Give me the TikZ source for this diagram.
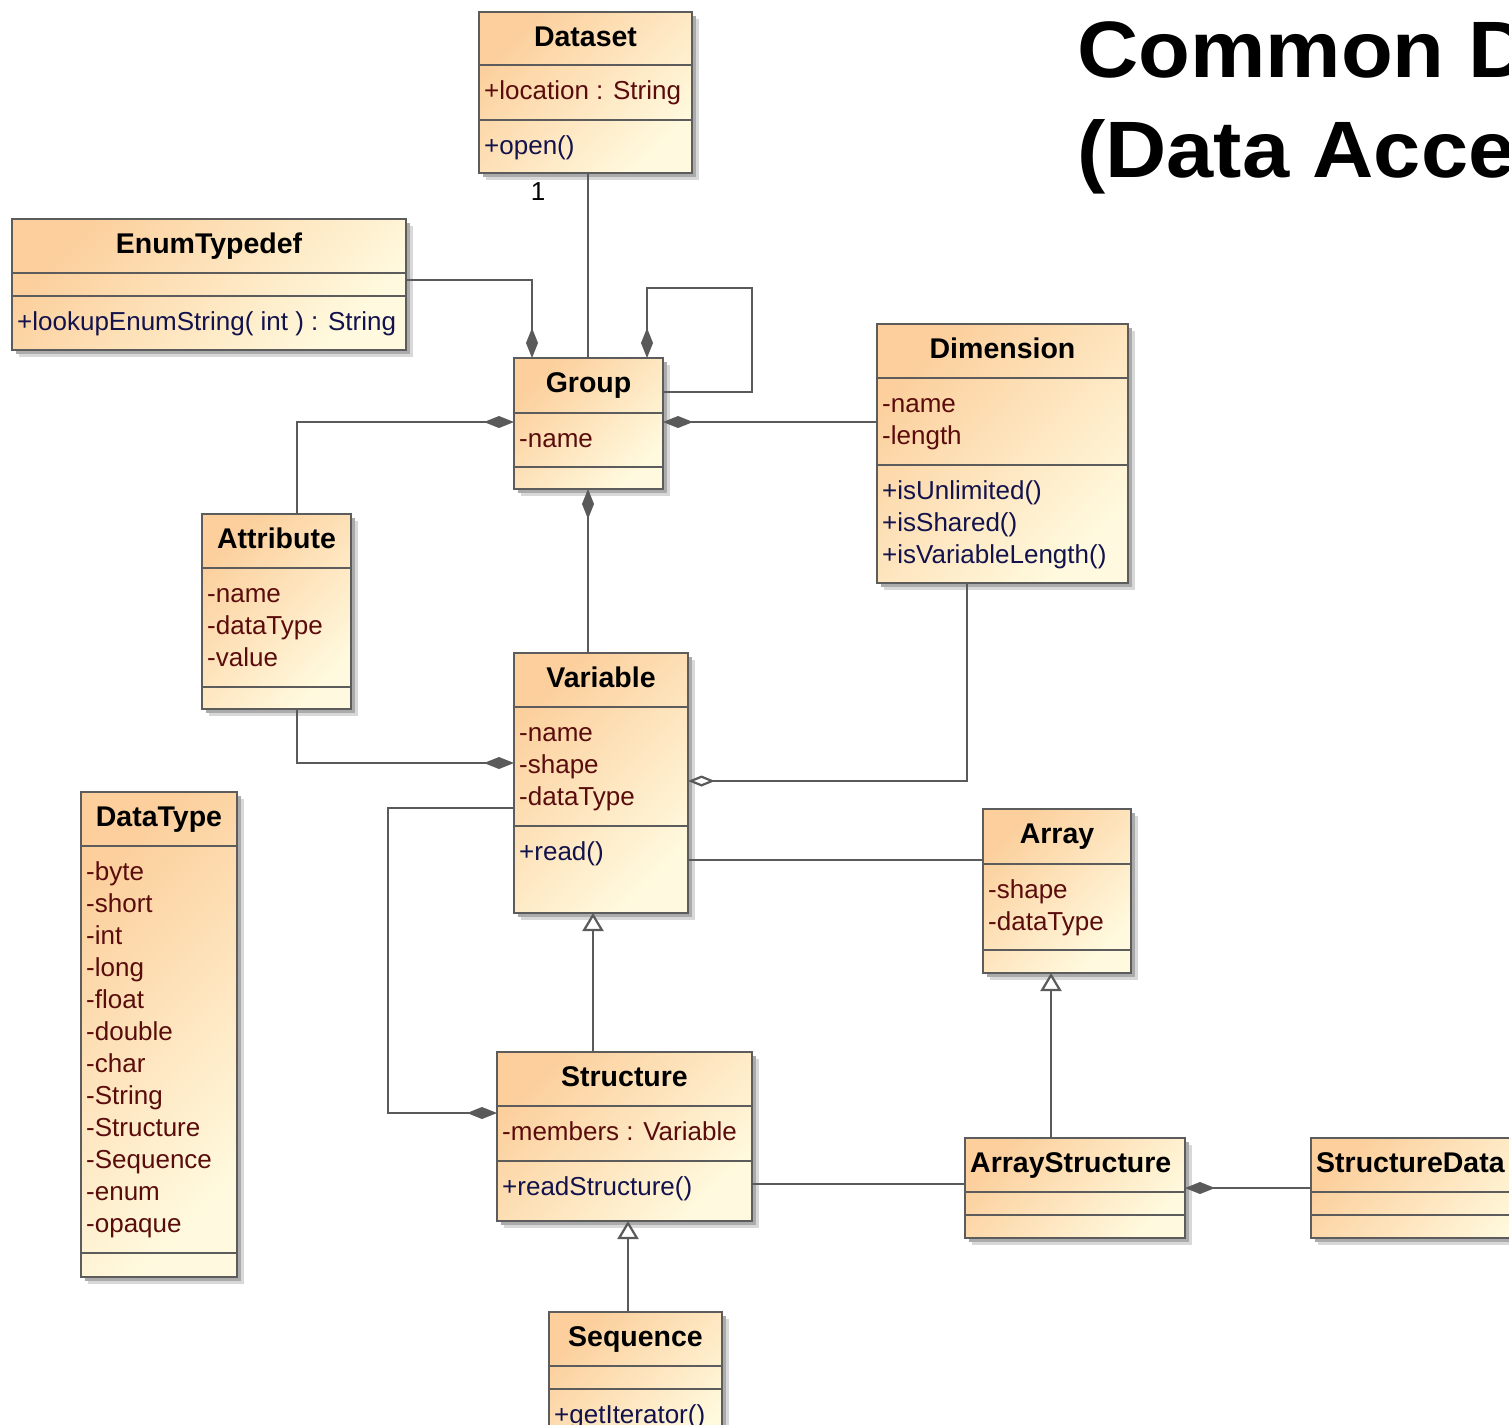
\documentclass[tikz,border=0pt]{standalone}
\usepackage{fontspec}
\setmainfont{Liberation Sans}
\newfontfamily\headfont[FakeStretch=1.06]{Liberation Sans}
\usetikzlibrary{arrows.meta}

\definecolor{peach}{HTML}{FCCF9C}
\definecolor{cream}{HTML}{FFFADF}
\definecolor{boxedge}{HTML}{5C5C5C}
\definecolor{wirecol}{HTML}{5A5A5A}
\definecolor{attrcol}{HTML}{5A0C0C}
\definecolor{opcol}{HTML}{12124C}
\definecolor{shadeA}{HTML}{ABABAB}
\definecolor{shadeB}{HTML}{D8D8D8}

\tikzset{
  classbox/.style={draw=boxedge, line width=2.4pt, top color=peach, bottom color=cream,
    shading angle=45, inner sep=0pt, outer sep=0pt, anchor=north west},
  divider/.style={draw=boxedge, line width=2.4pt},
  titletext/.style={font=\bfseries\fontsize{28.5}{32}\selectfont, text=black, inner sep=0pt, anchor=base},
  rowtext/.style={font=\fontsize{26}{32}\selectfont, inner sep=0pt, anchor=base west},
  wire/.style={draw=wirecol, line width=2.2pt, line join=miter},
  comp/.style={-{Diamond[length=30pt,width=12pt]}},
  aggr/.style={-{Diamond[open,length=27pt,width=11pt,fill=white]}},
  gen/.style={-{Triangle[open,length=18pt,width=21pt,fill=white]}},
}

% class box: name, x1, y1, x2, y2, first divider, second divider, title
\newcommand\umlclass[8]{%
  \fill[shadeB] (#2+7,#3+7) rectangle (#4+7,#5+7);
  \fill[shadeA] (#2+4,#3+4) rectangle (#4+4,#5+4);
  \node[classbox, minimum width=#4-#2, minimum height=#5-#3] (#1) at (#2,#3) {};
  \draw[divider] (#2,#6) -- (#4,#6) (#2,#7) -- (#4,#7);
  \if\relax\detokenize{#8}\relax\else
    \node[titletext] (#1-t) at ([yshift=-34pt]#1.north) {#8};
  \fi
}
% compartment rows: name prefix, box left x, compartment top y, colour, rows
\newcommand\umlrows[5]{%
  \foreach \row [count=\k from 0] in {#5}{%
    \node[rowtext, text=#4] (#1\k) at (#2+5,#3+34+32*\k) {\row};
  }%
}

\begin{document}
\begin{tikzpicture}[x=1pt, y=-1pt]
\useasboundingbox (0,0) rectangle (1509,1424);
\clip (0,0) rectangle (1509,1424);
\fill[white] (0,0) rectangle (1509,1424);

% heading
\node[font=\headfont\bfseries\fontsize{80}{99}\selectfont, anchor=base west, inner sep=0pt] (head1) at (1077,77) {Common D};
\node[font=\headfont\bfseries\fontsize{80}{99}\selectfont, anchor=base west, inner sep=0pt] (head2) at (1077,177) {(Data Acce};

% classes
\umlclass{ds}{479}{12}{692}{173}{65}{120}{Dataset}
\umlrows{dsA}{479}{65}{attrcol}{+location : String}
\umlrows{dsO}{479}{120}{opcol}{+open()}

\umlclass{enum}{12}{219}{406}{350}{273}{296}{EnumTypedef}
\umlrows{enumO}{12}{296}{opcol}{+lookupEnumString( int ) : String}

\umlclass{grp}{514}{358}{663}{489}{413}{467}{Group}
\umlrows{grpA}{514}{413}{attrcol}{-name}

\umlclass{dim}{877}{324}{1128}{583}{378}{465}{Dimension}
\umlrows{dimA}{877}{378}{attrcol}{-name,-length}
\umlrows{dimO}{877}{465}{opcol}{+isUnlimited(),+isShared(),+isVariableLength()}

\umlclass{attr}{202}{514}{351}{709}{568}{687}{Attribute}
\umlrows{attrA}{202}{568}{attrcol}{-name,-dataType,-value}

\umlclass{var}{514}{653}{688}{913}{707}{826}{Variable}
\umlrows{varA}{514}{707}{attrcol}{-name,-shape,-dataType}
\umlrows{varO}{514}{826}{opcol}{+read()}

\umlclass{dt}{81}{792}{237}{1277}{846}{1253}{DataType}
\umlrows{dtA}{81}{846}{attrcol}{-byte,-short,-int,-long,-float,-double,-char,-String,-Structure,-Sequence,-enum,-opaque}

\umlclass{arr}{983}{809}{1131}{973}{864}{950}{Array}
\umlrows{arrA}{983}{864}{attrcol}{-shape,-dataType}

\umlclass{str}{497}{1052}{752}{1221}{1106}{1161}{Structure}
\umlrows{strA}{497}{1106}{attrcol}{-members : Variable}
\umlrows{strO}{497}{1161}{opcol}{+readStructure()}

\umlclass{seq}{549}{1312}{722}{1460}{1366}{1389}{Sequence}
\umlrows{seqO}{549}{1389}{opcol}{+getIterator()}

\umlclass{as}{965}{1138}{1185}{1238}{1192}{1215}{}
\node[titletext, anchor=base west] (as-t) at ([xshift=5pt,yshift=-34pt]as.north west) {ArrayStructure};

\umlclass{sd}{1311}{1138}{1560}{1238}{1192}{1215}{}
\node[titletext, anchor=base west] (sd-t) at ([xshift=5pt,yshift=-34pt]sd.north west) {StructureData};

% bend points of the connectors
\coordinate (c1) at (588,0);
\coordinate (c2) at (532,280);
\coordinate (c3a) at (752,392);
\coordinate (c3b) at (752,288);
\coordinate (c3c) at (647,288);
\coordinate (c4) at (297,422);
\coordinate (c7) at (297,763);
\coordinate (c8) at (967,781);
\coordinate (c9a) at (388,808);
\coordinate (c9b) at (388,1113);
\coordinate (c10) at (0,860);
\coordinate (c11) at (593,0);
\coordinate (c12) at (1051,0);
\coordinate (c13) at (0,1184);
\coordinate (c14) at (0,1188);
\coordinate (c15) at (628,0);

% connectors
\draw[wire] (ds.south -| c1) -- (grp.north -| c1);
\node[rowtext, text=black, anchor=base] (mult) at (538,200) {1};
\draw[wire, comp] (enum.east |- c2) -- (c2) -- (grp.north -| c2);
\draw[wire, comp] (grp.east |- c3a) -- (c3a) -- (c3b) -- (c3c) -- (grp.north -| c3c);
\draw[wire, comp] (attr.north -| c4) -- (c4) -- (grp.west |- c4);
\draw[wire, comp] (dim.west |- c4) -- (grp.east |- c4);
\draw[wire, comp] (var.north -| c1) -- (grp.south -| c1);
\draw[wire, comp] (attr.south -| c7) -- (c7) -- (var.west |- c7);
\draw[wire, aggr] (dim.south -| c8) -- (c8) -- (var.east |- c8);
\draw[wire, comp] (var.west |- c9a) -- (c9a) -- (c9b) -- (str.west |- c9b);
\draw[wire] (var.east |- c10) -- (arr.west |- c10);
\draw[wire, gen] (str.north -| c11) -- (var.south -| c11);
\draw[wire, gen] (as.north -| c12) -- (arr.south -| c12);
\draw[wire] (str.east |- c13) -- (as.west |- c13);
\draw[wire, comp] (sd.west |- c14) -- (as.east |- c14);
\draw[wire, gen] (seq.north -| c15) -- (str.south -| c15);
\end{tikzpicture}
\end{document}
